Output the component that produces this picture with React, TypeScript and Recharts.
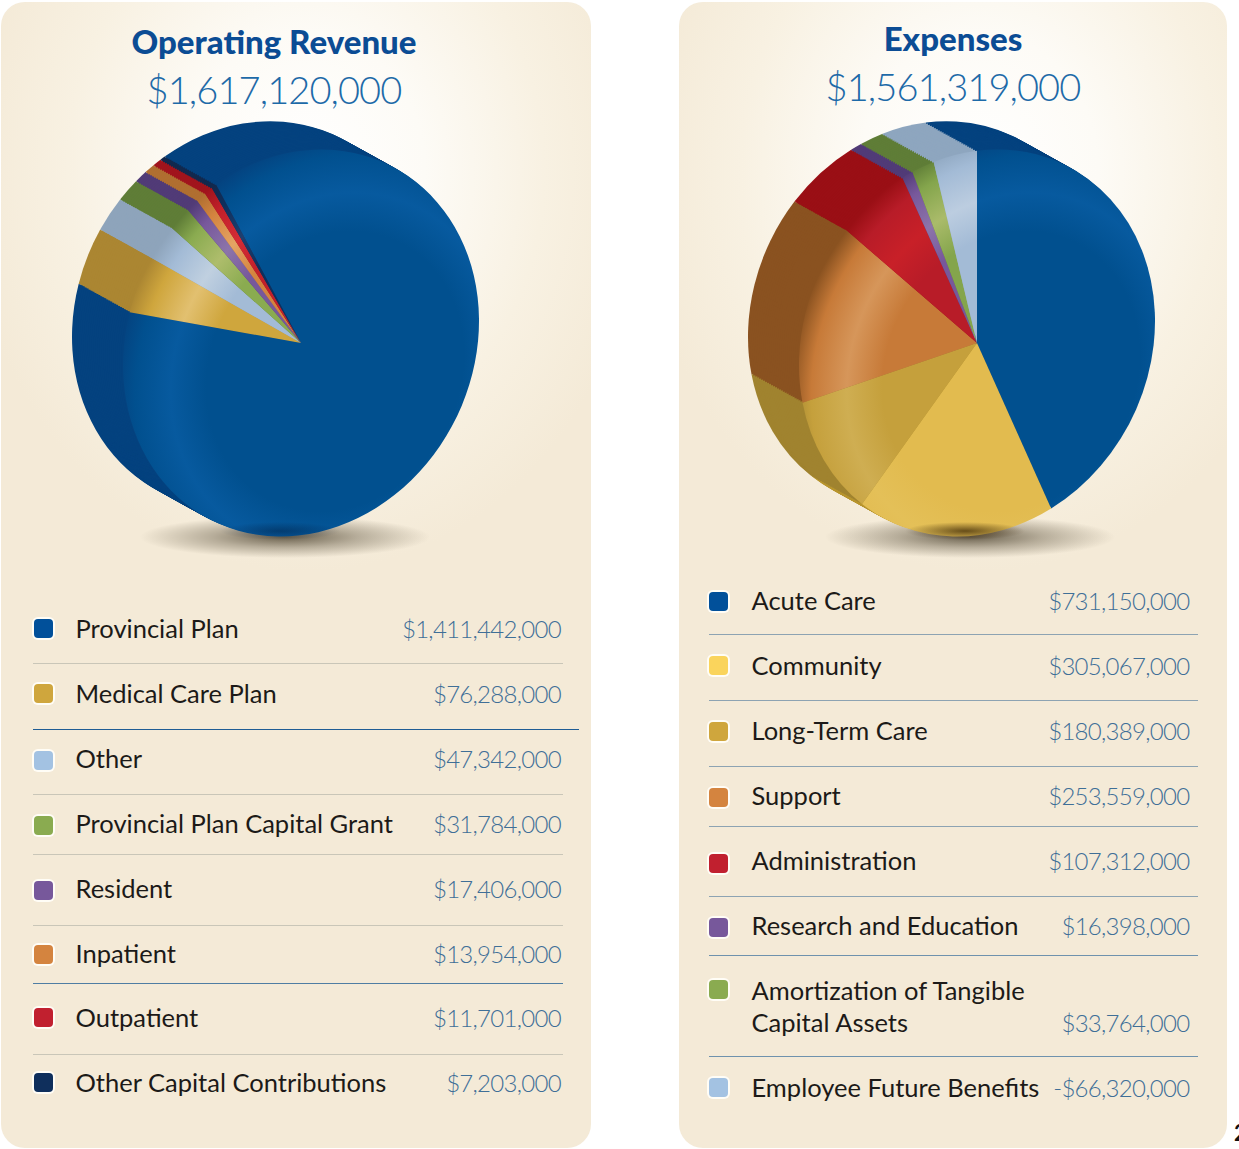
import React from "react";
import { PieChart, Pie, Cell } from "recharts";

// Operating revenue
const revenueNames = [
  "Provincial Plan",
  "Medical Care Plan",
  "Other",
  "Provincial Plan Capital Grant",
  "Resident",
  "Inpatient",
  "Outpatient",
  "Other Capital Contributions",
];
const revenueValues = [1411442000, 76288000, 47342000, 31784000, 17406000, 13954000, 11701000, 7203000];
const revenueSwatch = ["#01509a", "#cfa63d", "#a3c2e2", "#8aab50", "#77589b", "#d4843f", "#c1202f", "#0f2f5c"];
const revenueFace = ["#01508f", "#cfa63d", "#a3bbd6", "#8aab50", "#77589b", "#d4843f", "#c1202a", "#0f2f5c"];
const revenueLight = ["#075a9f", "#e2c070", "#c0d0e0", "#aebd6c", "#8c74aa", "#e4a464", "#d42c36", "#1f4070"];
const revenueWall = ["#04427f", "#ab8632", "#8ea4bb", "#5f7d37", "#513b77", "#b06f31", "#a1141d", "#12294e"];

// Expenses (Employee Future Benefits is negative, the pie draws its size)
const expenseNames = [
  "Acute Care",
  "Community",
  "Long-Term Care",
  "Support",
  "Administration",
  "Research and Education",
  "Amortization of Tangible",
  "Employee Future Benefits",
];
const expenseValues = [731150000, 305067000, 180389000, 253559000, 107312000, 16398000, 33764000, -66320000];
const expenseSwatch = ["#01509a", "#fad45c", "#cfa63d", "#d4843f", "#c1202f", "#77589b", "#8aab50", "#a3c2e2"];
const expenseFace = ["#01508f", "#e2bb4f", "#c5a03c", "#c77a38", "#b81c28", "#77589b", "#84a54c", "#a3bbd6"];
const expenseLight = ["#075a9f", "#e4c058", "#cfae52", "#d6965a", "#c82028", "#8c74aa", "#aabb6a", "#bccde0"];
const expenseWall = ["#04427f", "#b8952f", "#a0832f", "#8a5220", "#9a0f15", "#513b77", "#5f7d37", "#8ea6bf"];

const wallSteps = [1, 2, 3, 4, 5, 6, 7, 8, 9, 10, 11, 12, 13, 14, 15, 16, 17, 18, 19, 20, 21, 22, 23, 24, 25, 26];

const money = (v: number) => (v < 0 ? "-$" : "$") + Math.abs(v).toLocaleString("en-US");

const TEXT = "#1c1a18";
const VALUE = "#3f6f97";
const BLUE = "#0b4c94";
const RADIUS = 178;
const CHART_H = 500;
const CY = 280;

interface PieProps {
  id: string;
  values: number[];
  face: string[];
  light: string[];
  wall: string[];
  width: number;
  cx: number;
  startAngle: number;
}

function ExtrudedPie({ id, values, face, light, wall, width, cx, startAngle }: PieProps) {
  const data = values.map((v, i) => ({ name: String(i), value: Math.abs(v) }));
  return (
    <div
      style={{
        position: "absolute",
        left: 0,
        top: 63,
        transform: "matrix(1, -0.124, 0, 1.08, 0, 0)",
        transformOrigin: `${cx}px ${CY}px`,
      }}
    >
      <PieChart width={width} height={CHART_H} margin={{ top: 0, right: 0, bottom: 0, left: 0 }}>
        <defs>
          {face.map((c, i) => (
            <radialGradient
              key={i}
              id={`${id}-${i}`}
              gradientUnits="userSpaceOnUse"
              cx={cx + 34}
              cy={CY + 30}
              r={222}
            >
              <stop offset="0%" stopColor={c} />
              <stop offset="58%" stopColor={c} />
              <stop offset="74%" stopColor={light[i]} />
              <stop offset="90%" stopColor={c} />
              <stop offset="100%" stopColor={wall[i]} />
            </radialGradient>
          ))}
        </defs>
        {[...wallSteps].reverse().map((s) => (
          <Pie
            key={s}
            data={data}
            dataKey="value"
            cx={cx - (s * 51) / 26}
            cy={CY - (s * 32) / 26}
            outerRadius={RADIUS}
            startAngle={startAngle}
            endAngle={startAngle - 360}
            stroke="none"
            isAnimationActive={false}
          >
            {data.map((_, i) => (
              <Cell key={i} fill={wall[i]} />
            ))}
          </Pie>
        ))}
        <Pie
          data={data}
          dataKey="value"
          cx={cx}
          cy={CY}
          outerRadius={RADIUS}
          startAngle={startAngle}
          endAngle={startAngle - 360}
          stroke="none"
          isAnimationActive={false}
        >
          {data.map((_, i) => (
            <Cell key={i} fill={`url(#${id}-${i})`} />
          ))}
        </Pie>
      </PieChart>
    </div>
  );
}

const rowText: React.CSSProperties = {
  position: "absolute",
  fontFamily: "Lato, sans-serif",
  fontSize: 25.5,
  lineHeight: "33px",
  color: TEXT,
  whiteSpace: "pre",
};
const valueText: React.CSSProperties = {
  position: "absolute",
  fontFamily: "Lato, sans-serif",
  fontWeight: 300,
  fontSize: 24,
  letterSpacing: -0.7,
  lineHeight: "33px",
  color: VALUE,
  whiteSpace: "pre",
  textAlign: "right",
};

function Swatch({ x, cy, color }: { x: number; cy: number; color: string }) {
  return (
    <div
      style={{
        position: "absolute",
        left: x,
        top: cy - 9.5,
        width: 19,
        height: 19,
        borderRadius: 4,
        background: color,
        boxShadow: "0 0 0 2px #fffdf6",
      }}
    />
  );
}

function Rule({ x, y, w, color }: { x: number; y: number; w: number; color: string }) {
  return <div style={{ position: "absolute", left: x, top: y, width: w, height: 1.4, background: color }} />;
}

const GREY = "#c9c6b8";
const DARK = "#4f7da3";
const revenueRows = [629, 694, 759, 824, 889, 954, 1018, 1083];
const revenueSwatchY = [628, 693, 760, 825, 890, 954, 1017, 1082];
const revenueRules = [663, 729, 794, 854, 925, 983, 1054];
const revenueRuleColor = [GREY, "#1f5c94", GREY, GREY, GREY, DARK, GREY];
const expenseRows = [601, 666, 731, 796, 861, 926, 991, 1088];
const expenseSwatchY = [601, 665, 731, 797, 863, 927, 989, 1087];
const expenseRules = [634, 700, 766, 826, 896, 955, 1056];
const expenseRuleColor = ["#8da3b2", "#8da3b2", "#8da3b2", "#8da3b2", "#8da3b2", "#6f92ad", "#6f92ad"];

function Shadow({ x, w }: { x: number; w: number }) {
  return (
    <div
      style={{
        position: "absolute",
        left: x,
        top: 516,
        width: w,
        height: 42,
        background:
          "radial-gradient(closest-side, rgba(60,50,30,0.75) 0%, rgba(90,80,60,0.4) 50%, rgba(120,110,90,0) 100%)",
      }}
    />
  );
}

// the dark contact patch where the pie touches its shadow
function Contact({ x, color }: { x: number; color: string }) {
  return (
    <div
      style={{
        position: "absolute",
        left: x - 60,
        top: 522,
        width: 120,
        height: 18,
        background: `radial-gradient(closest-side, ${color} 0%, rgba(0,0,0,0) 100%)`,
      }}
    />
  );
}

function Title({ cx, y, title, total }: { cx: number; y: number; title: string; total: string }) {
  return (
    <>
      <div
        style={{
          position: "absolute",
          left: cx - 250,
          width: 500,
          top: y - 1,
          textAlign: "center",
          fontFamily: "Lato, sans-serif",
          fontWeight: 900,
          fontSize: 33,
          lineHeight: "40px",
          color: BLUE,
        }}
      >
        {title}
      </div>
      <div
        style={{
          position: "absolute",
          left: cx - 250,
          width: 500,
          top: y + 39,
          textAlign: "center",
          fontFamily: "Lato, sans-serif",
          fontWeight: 300,
          fontSize: 38,
          letterSpacing: -0.9,
          lineHeight: "56px",
          color: "#1d6aa8",
        }}
      >
        {total}
      </div>
    </>
  );
}

const panelBase: React.CSSProperties = {
  position: "absolute",
  top: 2,
  height: 1146,
  borderRadius: 24,
  overflow: "hidden",
};

export default function App() {
  return (
    <div
      style={{
        position: "absolute",
        left: 0,
        top: 0,
        width: 1239,
        height: 1149,
        background: "#fff",
        overflow: "hidden",
      }}
    >
      {/* Operating revenue */}
      <div
        style={{
          ...panelBase,
          left: 1,
          width: 590,
          background:
            "radial-gradient(ellipse 340px 400px at 305px 170px, #ffffff 0%, #fdfbf6 35%, #f8f1e2 70%, #f4ead7 100%), #f4ead7",
        }}
      />
      <div style={{ position: "absolute", left: 0, top: 0, width: 600, height: 1149 }}>
        <Shadow x={140} w={290} />
        <ExtrudedPie
          id="rev"
          values={revenueValues}
          face={revenueFace}
          light={revenueLight}
          wall={revenueWall}
          width={600}
          cx={301}
          startAngle={118.5}
        />
        <Contact x={280} color="rgba(0,20,50,0.4)" />
        <Title cx={274} y={22} title="Operating Revenue" total={money(1617120000)} />
        {revenueNames.map((n, i) => (
          <React.Fragment key={n}>
            <Swatch x={34} cy={revenueSwatchY[i]} color={revenueSwatch[i]} />
            <div style={{ ...rowText, left: 75.5, top: revenueRows[i] - 17 }}>{n}</div>
            <div style={{ ...valueText, right: 600 - 561, top: revenueRows[i] - 17 }}>{money(revenueValues[i])}</div>
          </React.Fragment>
        ))}
        {revenueRules.map((y, i) => (
          <Rule key={y} x={33} y={y} w={i === 1 ? 546 : 530} color={revenueRuleColor[i]} />
        ))}
      </div>

      {/* Expenses */}
      <div
        style={{
          ...panelBase,
          left: 679,
          width: 548,
          background:
            "radial-gradient(ellipse 340px 400px at 300px 170px, #ffffff 0%, #fdfbf6 35%, #f8f1e2 70%, #f4ead7 100%), #f4ead7",
        }}
      />
      <div style={{ position: "absolute", left: 600, top: 0, width: 639, height: 1149 }}>
        <Shadow x={225} w={290} />
        <ExtrudedPie
          id="exp"
          values={expenseValues}
          face={expenseFace}
          light={expenseLight}
          wall={expenseWall}
          width={639}
          cx={377}
          startAngle={90}
        />
        <Contact x={365} color="rgba(50,30,0,0.7)" />
        <Title cx={353} y={19} title="Expenses" total={money(1561319000)} />
        {expenseNames.map((n, i) => (
          <React.Fragment key={n}>
            <Swatch x={109} cy={expenseSwatchY[i]} color={expenseSwatch[i]} />
            <div style={{ ...rowText, left: 151.5, top: expenseRows[i] - 17 }}>{n}</div>
            <div
              style={{
                ...valueText,
                right: 639 - 589.5,
                top: (i === 6 ? 1023 : expenseRows[i]) - 17,
              }}
            >
              {money(expenseValues[i])}
            </div>
          </React.Fragment>
        ))}
        <div style={{ ...rowText, left: 151.5, top: 1023 - 17 }}>Capital Assets</div>
        {expenseRules.map((y, i) => (
          <Rule key={y} x={109} y={y} w={489} color={expenseRuleColor[i]} />
        ))}
      </div>

      {/* page number cut off by the edge of the scan */}
      <div
        style={{
          position: "absolute",
          left: 1234,
          top: 1118,
          fontFamily: "Lato, sans-serif",
          fontWeight: 700,
          fontSize: 22,
          lineHeight: "30px",
          color: "#111",
        }}
      >
        2
      </div>
    </div>
  );
}
